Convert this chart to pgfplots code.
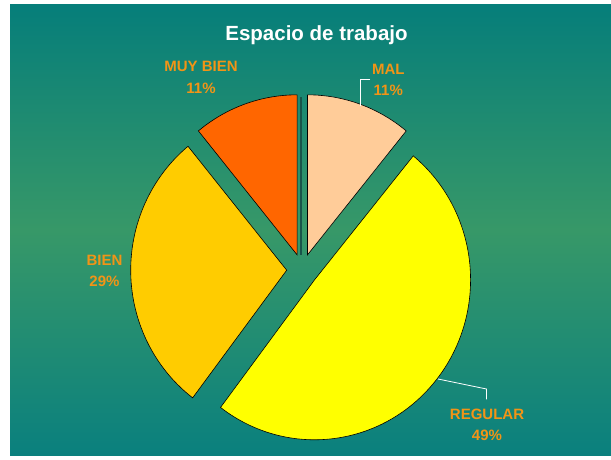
\documentclass[border=0pt]{standalone}
\usepackage{pgfplots}
\usepackage{pgfplotstable}
\pgfplotsset{compat=1.18}
\usepackage{fontspec}
\setmainfont{Liberation Sans}

\definecolor{bgTop}{RGB}{6,126,122}
\definecolor{bgMid}{RGB}{55,152,104}
\definecolor{bgBot}{RGB}{10,128,126}
\definecolor{cMal}{RGB}{255,204,153}
\definecolor{cReg}{RGB}{255,255,0}
\definecolor{cBien}{RGB}{255,204,0}
\definecolor{cMuy}{RGB}{255,102,0}
\definecolor{lblc}{RGB}{242,148,22}
\definecolor{gapc}{RGB}{24,84,74}

% slices in Excel order: clockwise from 12 o'clock (percent)
\pgfplotstableread[col sep=comma]{
label,value,fillc
MAL,10.9,cMal
REGULAR,49.4,cReg
BIEN,28.8,cBien
MUY BIEN,10.9,cMuy
}\piedata

\begin{document}
\begin{tikzpicture}
\begin{axis}[
  scale only axis,
  width=611bp, height=455bp,
  xmin=0, xmax=611, ymin=0, ymax=455,
  hide axis, clip=false,
]
% background
\fill[white] (axis cs:0,0) rectangle (axis cs:611,455);
\fill[top color=bgTop, bottom color=bgBot, middle color=bgMid]
  (axis cs:10,0) rectangle (axis cs:611,450);

% pie slightly stretched vertically, as in the original image
\def\cx{302.3}\def\cy{185.1}
\def\rx{156}\def\ry{160}
\def\angstart{90}
\pgfplotsforeachungrouped \i in {0,...,3}{
  \pgfplotstablegetelem{\i}{value}\of\piedata \let\v\pgfplotsretval
  \pgfplotstablegetelem{\i}{fillc}\of\piedata \let\c\pgfplotsretval
  \pgfmathsetmacro\angend{\angstart-3.6*\v}
  \pgfmathsetmacro\mid{(\angstart+\angend)/2}
  \pgfmathsetmacro\ox{\cx+0.1*\rx*cos(\mid)}
  \pgfmathsetmacro\oy{\cy+0.1*\ry*sin(\mid)}
  \pgfmathsetmacro\sx{\ox+\rx*cos(\angstart)}
  \pgfmathsetmacro\sy{\oy+\ry*sin(\angstart)}
  \edef\temp{\noexpand\filldraw[fill=\c, draw=black, line width=0.6bp]
    (axis cs:\ox,\oy) -- (axis cs:\sx,\sy)
    arc[start angle=\angstart, end angle=\angend, x radius=\rx bp, y radius=\ry bp] -- cycle;}
  \temp
  \global\let\angstart\angend
}
\draw[gapc, line width=1.6bp] (axis cs:300.8,358) -- (axis cs:300.8,200.5);

% leader lines
\draw[white, line width=0.8bp] (axis cs:370,375.7) -- (axis cs:360,375.7) -- (axis cs:360,349);
\draw[white, line width=0.8bp] (axis cs:438,76) -- (axis cs:486.5,66) -- (axis cs:486.5,55.7);

% title and labels
\node[white, font=\bfseries\fontsize{20.5bp}{24bp}\selectfont, anchor=base]
  at (axis cs:316.5,414.5) {Espacio de trabajo};
\begin{scope}[every node/.style={lblc, font=\bfseries\fontsize{15bp}{18bp}\selectfont, anchor=base}]
\node at (axis cs:201,383.3) {MUY BIEN};
\node at (axis cs:201,361.7) {11\%};
\node at (axis cs:388.3,380.7) {MAL};
\node at (axis cs:388.3,359) {11\%};
\node at (axis cs:104.5,190) {BIEN};
\node at (axis cs:104.5,168.3) {29\%};
\node at (axis cs:487,35.7) {REGULAR};
\node at (axis cs:487,14.3) {49\%};
\end{scope}
\end{axis}
\end{tikzpicture}
\end{document}
